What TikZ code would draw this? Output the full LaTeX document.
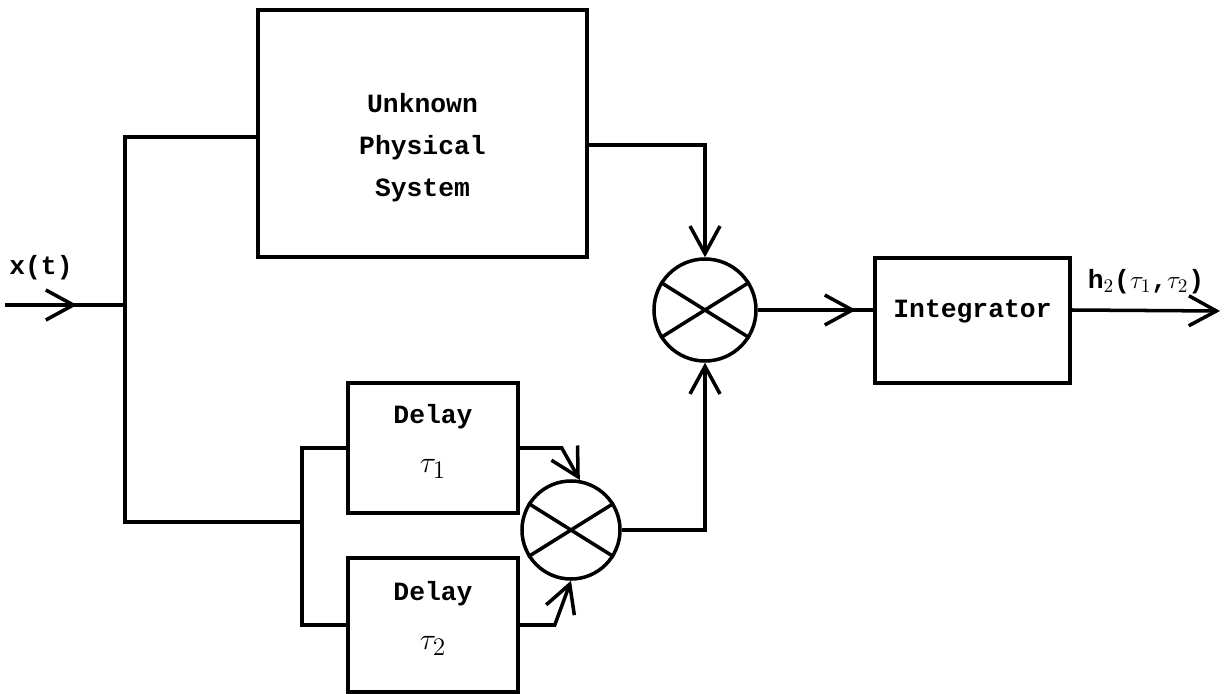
\documentclass[tikz,border=0pt]{standalone}
\usepackage{fontspec}
\setmainfont{Liberation Mono}
\usetikzlibrary{arrows.meta,decorations.markings}

\tikzset{
  block/.style={draw,line width=2pt,inner sep=0pt},
  txt/.style={align=center,inner sep=0pt,font=\bfseries\fontsize{15}{24}\selectfont},
  mixer/.style={draw,circle,line width=2pt,inner sep=0pt},
  wire/.style={line width=2pt},
  barb/.style={-{Straight Barb[length=5.5mm,width=6mm]}},
  arr/.style={wire,barb},
  midarr/.style={wire,postaction={decorate},
    decoration={markings,mark=at position #1 with {\arrow{Straight Barb[length=5.5mm,width=6mm]}}}}
}

\begin{document}
\begin{tikzpicture}[x=0.2mm,y=-0.2mm]
\useasboundingbox (0,0) rectangle (1227,694);

% blocks
\node[block,minimum width=65.8mm,minimum height=49.4mm] (sys) at (422.5,133.5) {};
\node[block,minimum width=34mm,minimum height=26mm] (delA) at (433,448) {};
\node[block,minimum width=34mm,minimum height=26.8mm] (delB) at (433,625) {};
\node[block,minimum width=39mm,minimum height=25mm] (integ) at (972.5,320.5) {};
\node[txt] (sysT) at ([yshift=-2.8mm]sys.center) {Unknown\\Physical\\System};
\node[txt,font=\bfseries\fontsize{15}{28}\selectfont] (delAT) at ([yshift=1.4mm]delA.center) {Delay\\{\fontsize{19}{28}\selectfont$\tau_1$}};
\node[txt,font=\bfseries\fontsize{15}{28}\selectfont] (delBT) at ([yshift=1.4mm]delB.center) {Delay\\{\fontsize{19}{28}\selectfont$\tau_2$}};
\node[txt] (integT) at ([yshift=1.8mm]integ.center) {Integrator};

% multipliers
\node[mixer,minimum size=20.4mm] (mixA) at (705,310) {};
\node[mixer,minimum size=19.6mm] (mixB) at (571,530) {};
\foreach \m in {mixA,mixB}
  \draw[wire] (\m.148) -- (\m.-32) (\m.32) -- (\m.212);

% input side
\coordinate (in) at (5,305);
\coordinate (fork) at (125,305);
\coordinate (top) at (125,137);
\coordinate (bot) at (125,522);
\coordinate (split) at (302,522);
\coordinate (out) at (1220,311);

\node[txt] (xlab) at (41,268) {x(t)};
\node[txt] (hlab) at (1146,282) {h$_2$($\tau_1$,$\tau_2$)};

% connectors
\draw[midarr=0.6] (in) -- (fork);
\draw[wire] (top -| sys.west) -- (top) -- (bot) -- (split);
\draw[wire] (delA.west) -| (split) |- (delB.west);
\draw[arr] (delA.east) -- ++(42,0) -- (mixB.80);
\draw[arr] (delB.east) -- ++(35,0) -- (mixB.south);
\draw[arr] ([yshift=-2.3mm]sys.east) -| (mixA.north);
\draw[arr] (mixB.east) -| (mixA.south);
\draw[midarr=0.85] (mixA.east) -- (mixA.east -| integ.west);
\draw[arr] (integ.east |- mixA.east) -- (out);
\end{tikzpicture}
\end{document}
